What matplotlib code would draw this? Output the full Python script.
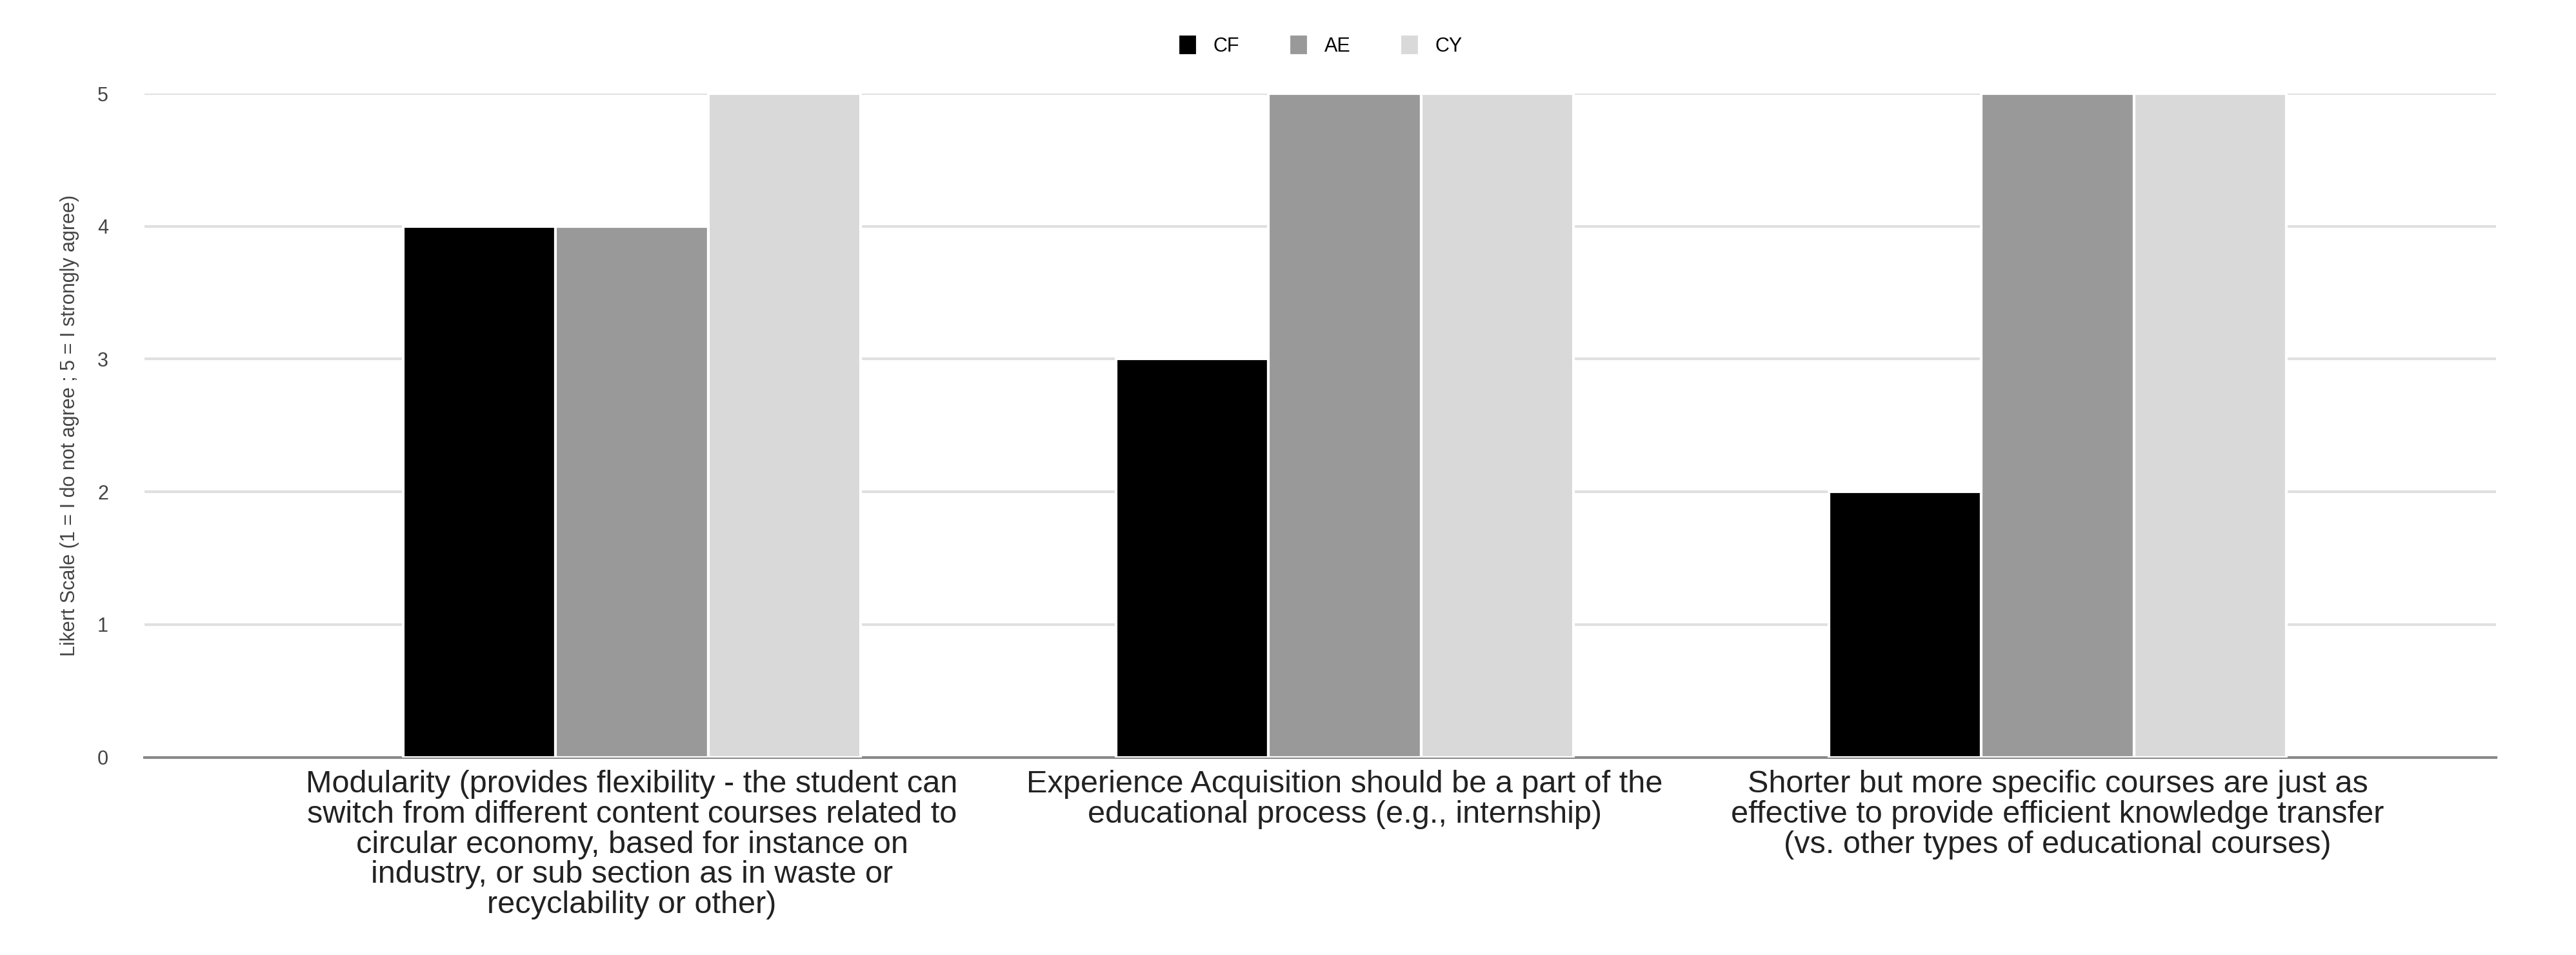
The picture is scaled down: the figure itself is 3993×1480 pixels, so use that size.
import matplotlib
matplotlib.use('Agg')
import matplotlib.pyplot as plt
import numpy

categories = ['Modularity (provides flexibility - the student can\nswitch from different content courses related to\ncircular economy, based for instance on\nindustry, or sub section as in waste or\nrecyclability or other)',
              'Experience Acquisition should be a part of the\neducational process (e.g., internship)',
              'Shorter but more specific courses are just as\neffective to provide efficient knowledge transfer\n(vs. other types of educational courses)']
series_names = ['CF', 'AE', 'CY']
cf = [4, 3, 2]
ae = [4, 5, 5]
cy = [5, 5, 5]
colors = ['#000000', '#999999', '#d9d9d9']

plt.rcParams['font.family'] = ['Liberation Sans', 'DejaVu Sans']
fig = plt.figure(figsize=(39.93, 14.8), dpi=100)
ax = fig.add_axes([0.056, 0.207, 0.913, 0.695])

x = numpy.arange(len(categories))
w = 0.214
for i, (vals, name) in enumerate(zip([cf, ae, cy], series_names)):
    ax.bar(x + (i - 1) * w, vals, width=w, color=colors[i], edgecolor='white', linewidth=3, label=name, zorder=3)

ax.set_xlim(-0.684, 2.615)
ax.set_ylim(0, 5)
ax.set_yticks(range(6))
ax.grid(axis='y', color='#e0e0e0', linewidth=3, zorder=0)
ax.set_xticks(x)
ax.set_xticklabels(categories, fontsize=35, color='#222222', linespacing=1.05)
ax.tick_params(axis='x', length=0, pad=14)
ax.tick_params(axis='y', length=0, labelsize=22, colors='#444444', pad=40)
for s in ['top', 'right', 'left']:
    ax.spines[s].set_visible(False)
ax.spines['bottom'].set_color('#888888')
ax.spines['bottom'].set_linewidth(3)
ax.set_ylabel('Likert Scale (1 = I do not agree ; 5 = I strongly agree)', fontsize=22, color='#444444', labelpad=20)
ax.legend(loc='lower center', bbox_to_anchor=(0.5, 1.03), ncol=3, frameon=False, fontsize=22,
          handlelength=1.0, handleheight=1.3, columnspacing=2.5)
plt.savefig('out.png', dpi=100)
